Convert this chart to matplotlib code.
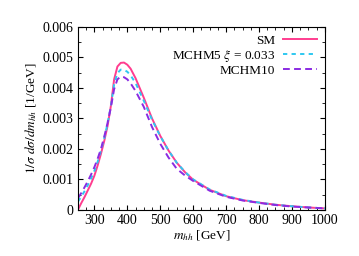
import matplotlib
matplotlib.use("Agg")
import matplotlib.pyplot as plt
from matplotlib.ticker import MultipleLocator, FuncFormatter

plt.rcParams["font.family"] = ["Liberation Serif", "DejaVu Serif"]
plt.rcParams["mathtext.fontset"] = "stix"

# m_hh [GeV]
mhh = [250, 260, 270, 280, 290, 300, 310, 320, 330, 340, 350, 360, 370, 380,
       390, 400, 410, 425, 450, 475, 500, 525, 550, 575, 600, 650, 700, 750,
       800, 850, 900, 950, 1000]
sm = [0.00000, 0.00022, 0.00042, 0.00064, 0.00086, 0.00112, 0.00146, 0.00184,
      0.00226, 0.00275, 0.00340, 0.00428, 0.00470, 0.00482, 0.00483, 0.00476,
      0.00463, 0.00432, 0.00368, 0.00300, 0.00243, 0.00195, 0.00155, 0.00124,
      0.00099, 0.00066, 0.00045, 0.00032, 0.00024, 0.00017, 0.00012, 0.00008,
      0.00005]
mchm5 = [0.00027, 0.00043, 0.00061, 0.00081, 0.00103, 0.00128, 0.00158, 0.00195,
         0.00235, 0.00283, 0.00340, 0.00412, 0.00448, 0.00460, 0.00459, 0.00453,
         0.00441, 0.00416, 0.00358, 0.00296, 0.00242, 0.00195, 0.00155, 0.00125,
         0.00100, 0.00067, 0.00046, 0.00033, 0.00024, 0.00017, 0.00012, 0.00008,
         0.00005]
mchm10 = [0.00038, 0.00055, 0.00074, 0.00094, 0.00116, 0.00140, 0.00168, 0.00200,
          0.00240, 0.00285, 0.00335, 0.00396, 0.00428, 0.00437, 0.00435, 0.00428,
          0.00415, 0.00390, 0.00338, 0.00272, 0.00217, 0.00172, 0.00135, 0.00113,
          0.00095, 0.00063, 0.00043, 0.00031, 0.00023, 0.00016, 0.00011, 0.00008,
          0.00005]

fig = plt.figure(figsize=(3.59, 2.56), dpi=100)
ax = fig.add_axes([0.217, 0.18, 0.688, 0.715])

ax.plot(mhh, sm, color="#ff3d8f", lw=1.4, label="SM")
ax.plot(mhh, mchm5, color="#2ec8f0", lw=1.4, ls=(0, (2.2, 2.2)),
        label=r"MCHM5 $\xi$ = 0.033")
ax.plot(mhh, mchm10, color="#8a2be2", lw=1.4, ls=(0, (3.5, 2.2)),
        label="MCHM10")

ax.set_xlim(250, 1000)
ax.set_ylim(0, 0.006)
ax.xaxis.set_major_locator(MultipleLocator(100))
ax.xaxis.set_minor_locator(MultipleLocator(25))
ax.yaxis.set_major_locator(MultipleLocator(0.001))
ax.yaxis.set_minor_locator(MultipleLocator(0.0005))
ax.yaxis.set_major_formatter(FuncFormatter(lambda v, p: "0" if abs(v) < 1e-9 else f"{v:.3f}"))
ax.tick_params(which="both", direction="in", top=True, right=True, labelsize=10)
ax.tick_params(which="major", length=3.5, pad=3)
ax.tick_params(which="minor", length=2)
for s in ax.spines.values():
    s.set_linewidth(0.8)

ax.set_xlabel(r"$m_{hh}$ [GeV]", fontsize=9.5, labelpad=1)
ax.set_ylabel(r"$1/\sigma\ d\sigma/dm_{hh}$ [1/GeV]", fontsize=9.5, labelpad=3)

ax.legend(loc="upper right", frameon=False, fontsize=9.5, markerfirst=False,
          handlelength=2.6, handletextpad=0.6, labelspacing=0.05,
          borderaxespad=0.2)

fig.savefig("out.png", dpi=100)
